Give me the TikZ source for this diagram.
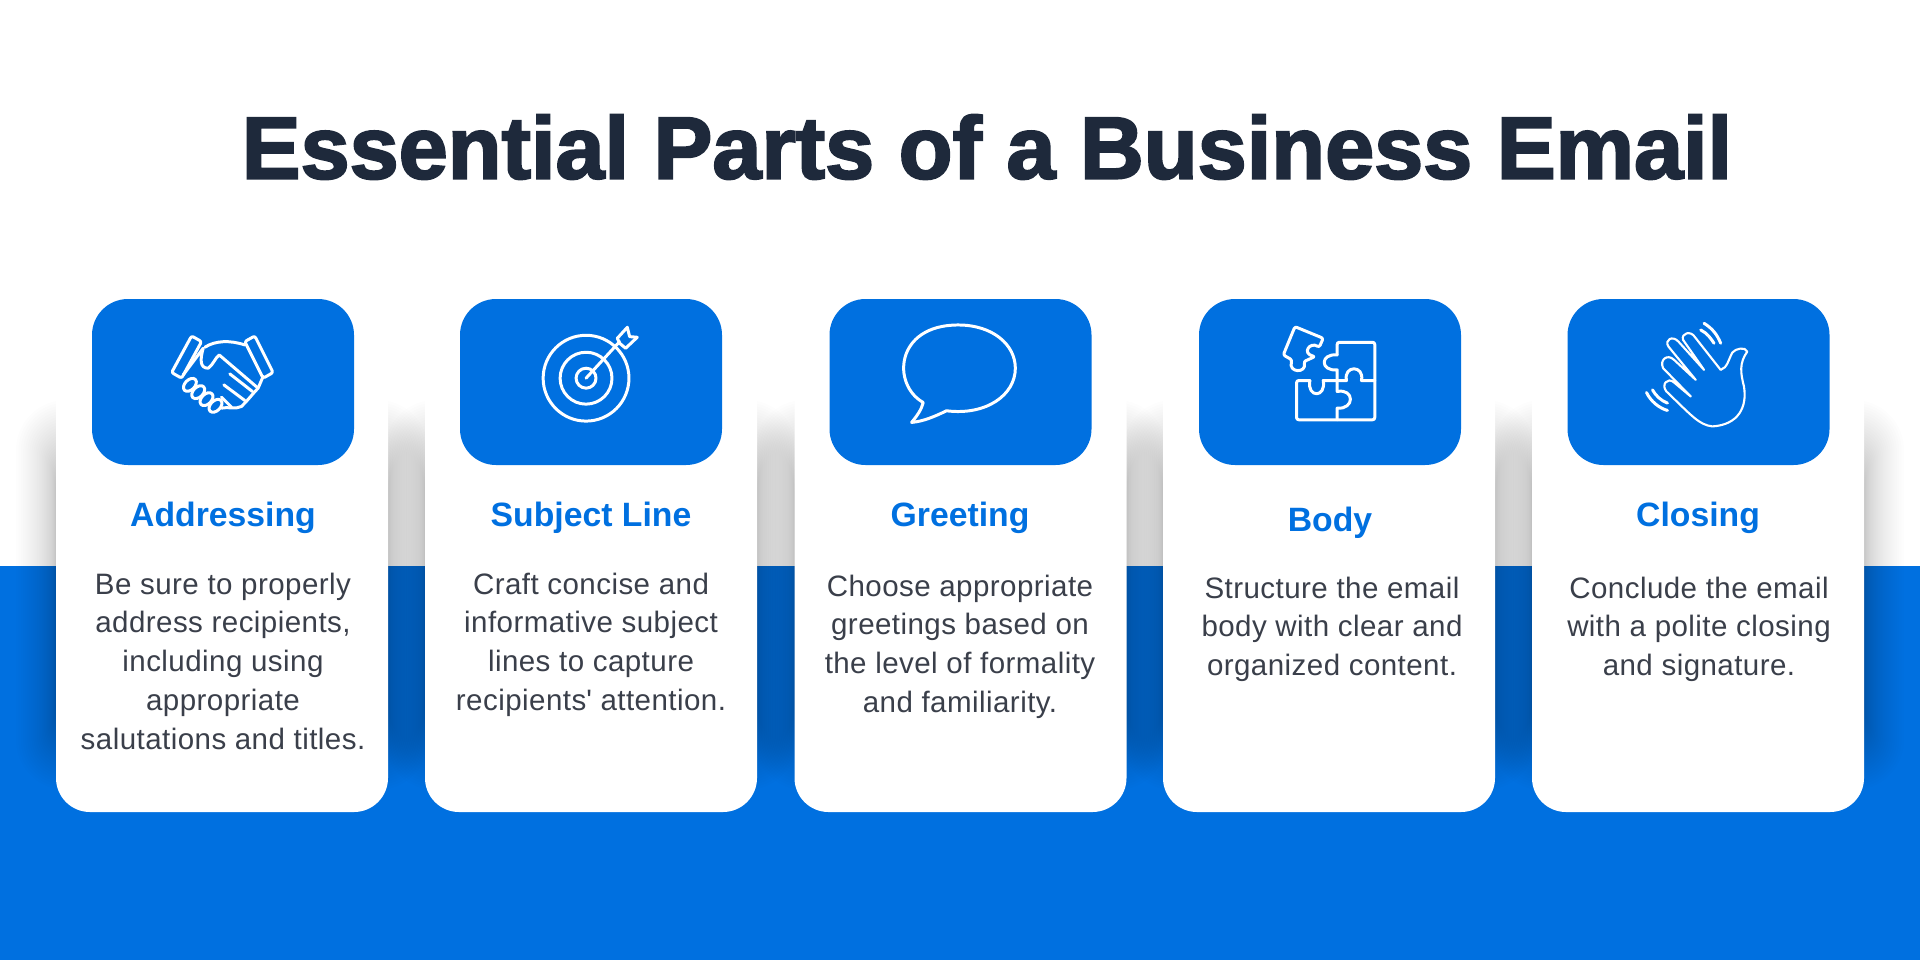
\documentclass[tikz,border=0pt]{standalone}
\usepackage{fontspec}
\setmainfont{Liberation Sans}
\usetikzlibrary{calc,positioning}
\definecolor{mainblue}{RGB}{0,112,224}
\definecolor{titleink}{RGB}{30,41,59}
\definecolor{bodyink}{RGB}{58,63,74}
\tikzset{
    card/.style={fill=white, rounded corners=0.34cm, minimum width=3.32cm, minimum height=5.42cm, inner sep=0mm},
    iconbox/.style={fill=mainblue, rounded corners=0.36cm, minimum width=2.62cm, minimum height=1.66cm, inner sep=0mm},
    headtext/.style={text=mainblue, font=\fontsize{9.6}{11}\selectfont\bfseries, inner sep=0mm},
    bodytext/.style={text=bodyink, align=center, anchor=north, inner sep=0mm, font=\fontsize{8.4}{11.05}\addfontfeatures{LetterSpace=1.5}},
    titletext/.style={text=titleink, inner sep=0mm, font=\fontsize{25.1}{30}\addfontfeatures{FakeBold=2.4}\bfseries},
    iconline/.style={draw=white, line width=0.85pt, line join=round, line cap=round}
}
\begin{document}
\begin{tikzpicture}
\useasboundingbox (0,0) rectangle (19.2,9.6);
\fill[white] (0,0) rectangle (19.2,9.6);
\fill[mainblue] (0,0) rectangle (19.2,3.94);

% soft shadows behind the cards
\foreach \cx in {2.22,5.91,9.605,13.29,16.98}
  \foreach \i in {1,...,32}{
    \pgfmathsetmacro\grow{0.4*(\i/32)^2}
    \pgfmathsetmacro\rise{4.75+0.85*\i/32}
    \pgfmathsetmacro\sink{2.5-0.8*\i/32}
    \fill[black, opacity=0.0085, rounded corners=\grow cm+1mm]
      (\cx-1.66-\grow,\sink) rectangle (\cx+1.66+\grow,\rise);
  }

\node[card] (card1) at (2.22,4.19) {};
\node[card] (card2) at (5.91,4.19) {};
\node[card] (card3) at (9.605,4.19) {};
\node[card] (card4) at (13.29,4.19) {};
\node[card] (card5) at (16.98,4.19) {};

\node[iconbox] (box1) at (2.23,5.78) {};
\node[iconbox] (box2) at (5.91,5.78) {};
\node[iconbox] (box3) at (9.605,5.78) {};
\node[iconbox] (box4) at (13.30,5.78) {};
\node[iconbox] (box5) at (16.985,5.78) {};

\node[titletext] (title) at (9.87,8.13) {Essential Parts of a Business Email};

\node[headtext] (head1) at (2.23,4.42) {Addressing};
\node[headtext] (head2) at (5.91,4.42) {Subject Line};
\node[headtext] (head3) at (9.60,4.42) {Greeting};
\node[headtext] (head4) at (13.30,4.37) {Body};
\node[headtext] (head5) at (16.98,4.42) {Closing};

\node[bodytext] (text1) at (2.23,3.88) {Be sure to properly\\address recipients,\\including using\\appropriate\\salutations and titles.};
\node[bodytext] (text2) at (5.91,3.88) {Craft concise and\\informative subject\\lines to capture\\recipients\textquotesingle{} attention.};
\node[bodytext] (text3) at (9.60,3.86) {Choose appropriate\\greetings based on\\the level of formality\\and familiarity.};
\node[bodytext] (text4) at (13.32,3.84) {Structure the email\\body with clear and\\organized content.};
\node[bodytext] (text5) at (16.99,3.84) {Conclude the email\\with a polite closing\\and signature.};

% handshake and target
\begin{scope}[shift={(1.5,6.5)}, x=0.003333cm, y=-0.003333cm]
  \draw[iconline, rounded corners=0.6pt] (125,78) -- (155,95) -- (95,205) -- (65,188) -- cycle;
  \draw[iconline, rounded corners=0.6pt] (285,95) -- (315,78) -- (370,188) -- (340,205) -- cycle;
  \draw[iconline] (165,112) .. controls (195,92) and (240,90) .. (285,105);
  \draw[iconline] (100,195) -- (160,115) .. controls (150,150) and (150,175) .. (175,175)
    .. controls (190,165) and (195,145) .. (208,135) -- (325,235);
  \draw[iconline] (340,200) -- (325,235) .. controls (310,250) and (300,265) .. (275,290)
    .. controls (255,300) and (235,290) .. (215,295);
  \draw[iconline] (240,192) -- (308,245);
  \draw[iconline] (222,225) -- (285,272);
  \draw[iconline] (215,262) -- (245,292);
  \foreach \fx/\fy in {120/225,145/247,170/268,197/288}
    \draw[iconline, rotate around={-45:(\fx,\fy)}] (\fx,\fy) ellipse (15 and 23);

  \draw[iconline] (1311,205) circle (129);
  \draw[iconline] (1311,205) circle (78);
  \draw[iconline] (1311,205) circle (30);
  \draw[iconline] (1311,205) -- (1412,95);
  \draw[iconline] (1405,85) -- (1435,52) -- (1442,80) -- (1465,82) -- (1430,115) -- (1412,100) -- cycle;
\end{scope}

% speech bubble
\begin{scope}[shift={(8.6,6.5)}, x=0.003333cm, y=-0.003333cm]
  \draw[iconline] (190,278) .. controls (95,225) and (105,45) .. (295,45)
    .. controls (400,45) and (467,105) .. (467,175)
    .. controls (467,255) and (380,318) .. (260,303)
    .. controls (225,320) and (190,335) .. (155,338) .. controls (170,320) and (185,300) .. (190,278);
\end{scope}

% puzzle and waving hand
\begin{scope}[shift={(12.6,6.5)}, x=0.003333cm, y=-0.003333cm]
  \draw[iconline, rounded corners=0.6pt] (232,135) -- (232,97) -- (345,97) -- (345,330) -- (110,330) -- (110,212) -- (150,212);
  \draw[iconline] (232,135) .. controls (180,130) and (180,185) .. (232,180) -- (232,245)
    .. controls (285,235) and (285,300) .. (232,295) -- (232,330);
  \draw[iconline] (150,212) .. controls (140,265) and (200,265) .. (190,212) -- (260,212)
    .. controls (250,165) and (315,165) .. (305,212) -- (345,212);
  \draw[iconline, rounded corners=0.6pt] (105,50) -- (190,85) -- (178,112)
    .. controls (150,95) and (125,130) .. (165,140) -- (132,155)
    .. controls (140,190) and (85,190) .. (96,150) -- (70,135) -- cycle;

  \draw[iconline, line width=0.6pt] (1465,125) .. controls (1440,160) and (1445,190) .. (1455,230)
    .. controls (1465,290) and (1440,345) .. (1360,350) .. controls (1320,345) and (1300,320) .. (1222,245)
    .. controls (1205,225) and (1225,200) .. (1245,218) -- (1295,260)
    -- (1212,175) .. controls (1200,150) and (1225,130) .. (1245,150) -- (1310,210)
    -- (1228,110) .. controls (1215,90) and (1240,75) .. (1258,95) -- (1335,180)
    -- (1272,90) .. controls (1265,70) and (1295,60) .. (1308,82) -- (1385,180)
    .. controls (1405,175) and (1410,145) .. (1420,128) .. controls (1430,115) and (1460,110) .. (1465,125);
  \draw[iconline] (1335,40) .. controls (1360,55) and (1375,75) .. (1385,100);
  \draw[iconline] (1325,60) .. controls (1345,70) and (1355,85) .. (1365,100);
  \draw[iconline] (1162,248) .. controls (1175,275) and (1200,295) .. (1225,302);
  \draw[iconline] (1180,240) .. controls (1190,258) and (1205,272) .. (1225,280);
\end{scope}
\end{tikzpicture}
\end{document}
